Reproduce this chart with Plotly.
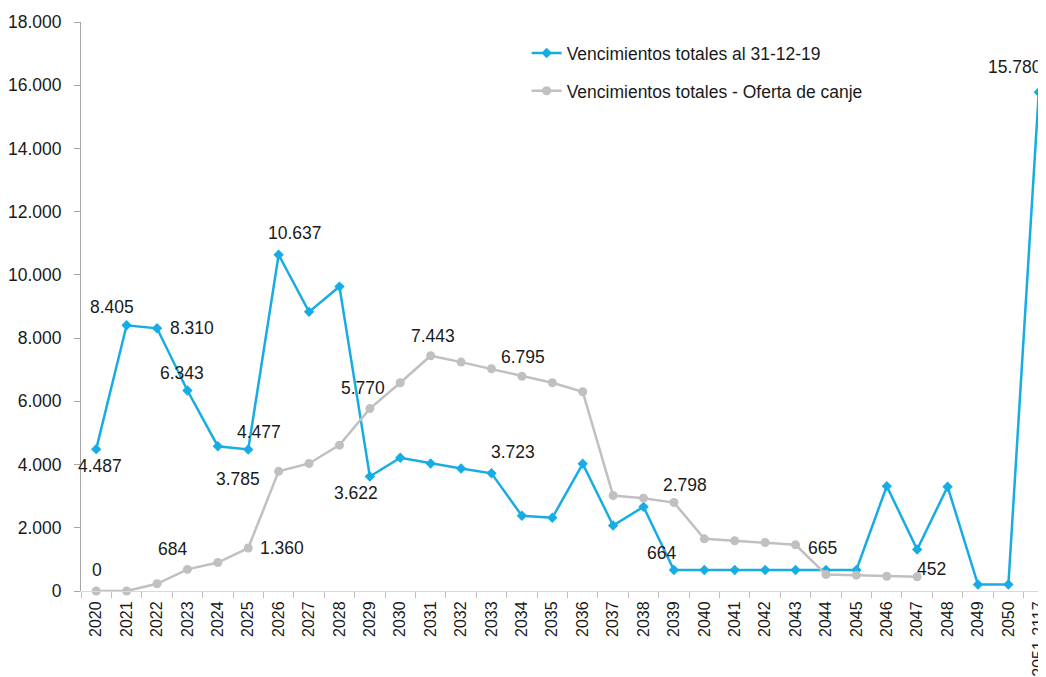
import plotly.graph_objects as go

categories = [str(y) for y in range(2020, 2051)] + ["2051-2117"]

venc_total = [4487, 8405, 8310, 6343, 4580, 4477, 10637, 8830, 9630, 3622,
              4215, 4035, 3877, 3723, 2380, 2316, 4025, 2073, 2664, 664,
              664, 664, 664, 664, 665, 664, 3317, 1313, 3300, 205,
              205, 15780]

venc_canje = [0, 0, 228, 684, 900, 1360, 3785, 4035, 4614, 5770,
              6588, 7443, 7241, 7030, 6795, 6588, 6303, 3022, 2937, 2798,
              1651, 1588, 1535, 1461, 522, 500, 468, 452, None, None,
              None, None]

name_total = "Vencimientos totales al 31-12-19"
name_canje = "Vencimientos totales - Oferta de canje"

# labels: (category index, dx, dy) -> offsets in pixels
labels_total = [(0, 4, 17), (1, -15, -18), (2, 35, 0), (3, -5, -17), (5, 11, -17),
                (6, 16, -22), (9, -14, 16), (13, 22, -21), (19, -12, -17),
                (24, -3, -22), (31, -24, -25)]
labels_canje = [(0, 1, -21), (3, -15, -20), (5, 34, 0), (6, -41, 8), (9, -7, -21),
                (11, 2, -20), (14, 1, -19), (19, 11, -18), (27, 14, -8)]

BLUE = "#17ACE3"
GREY = "#C0C0C0"
FONT = "Liberation Sans, Arial, sans-serif"
FS = 17.5

def fmt(v):
    return f"{v:,}".replace(",", ".")

fig = go.Figure()
fig.add_trace(go.Scatter(
    x=categories, y=venc_total, name=name_total, mode="lines+markers",
    line=dict(color=BLUE, width=2.5), marker=dict(symbol="diamond", size=8, color=BLUE),
    legendgroup="a", cliponaxis=False))
fig.add_trace(go.Scatter(
    x=categories, y=venc_canje, name=name_canje, mode="lines+markers",
    line=dict(color=GREY, width=2.5), marker=dict(symbol="circle", size=9, color=GREY),
    legendgroup="b", cliponaxis=False))

annots = []
for series, labs in ((venc_total, labels_total), (venc_canje, labels_canje)):
    for i, dx, dy in labs:
        annots.append(dict(x=i, y=series[i], text=fmt(series[i]),
                           xref="x", yref="y",
                           showarrow=False, xshift=dx, yshift=-dy,
                           font=dict(size=FS, color="#1a1a1a", family=FONT)))

fig.update_layout(
    width=1046, height=677,
    margin=dict(l=73, r=0, t=14, b=94),
    paper_bgcolor="white", plot_bgcolor="white",
    separators=",.",
    font=dict(family=FONT, size=FS, color="#1a1a1a"),
    annotations=annots,
    showlegend=True,
    legend=dict(x=0.458, y=0.977, xanchor="left", yanchor="top",
                font=dict(size=FS, family=FONT), bgcolor="rgba(0,0,0,0)",
                tracegroupgap=12, itemwidth=30),
    xaxis=dict(type="category", range=[-0.5, 31.5], tickangle=-90, automargin=False,
               showline=True, linecolor="#D9D9D9", linewidth=1,
               ticks="outside", tickson="boundaries", ticklen=6, tickcolor="#BFBFBF",
               ticklabelstandoff=3,
               showgrid=False, tickfont=dict(size=16, family=FONT)),
    yaxis=dict(range=[0, 18000], dtick=2000, tickformat=",d", automargin=False,
               showline=True, linecolor="#A6A6A6", linewidth=1,
               ticks="outside", ticklen=6, tickcolor="#A6A6A6", ticklabelstandoff=9,
               showgrid=False, zeroline=False, tickfont=dict(size=17.5, family=FONT)),
)

fig.write_html("out.html")
